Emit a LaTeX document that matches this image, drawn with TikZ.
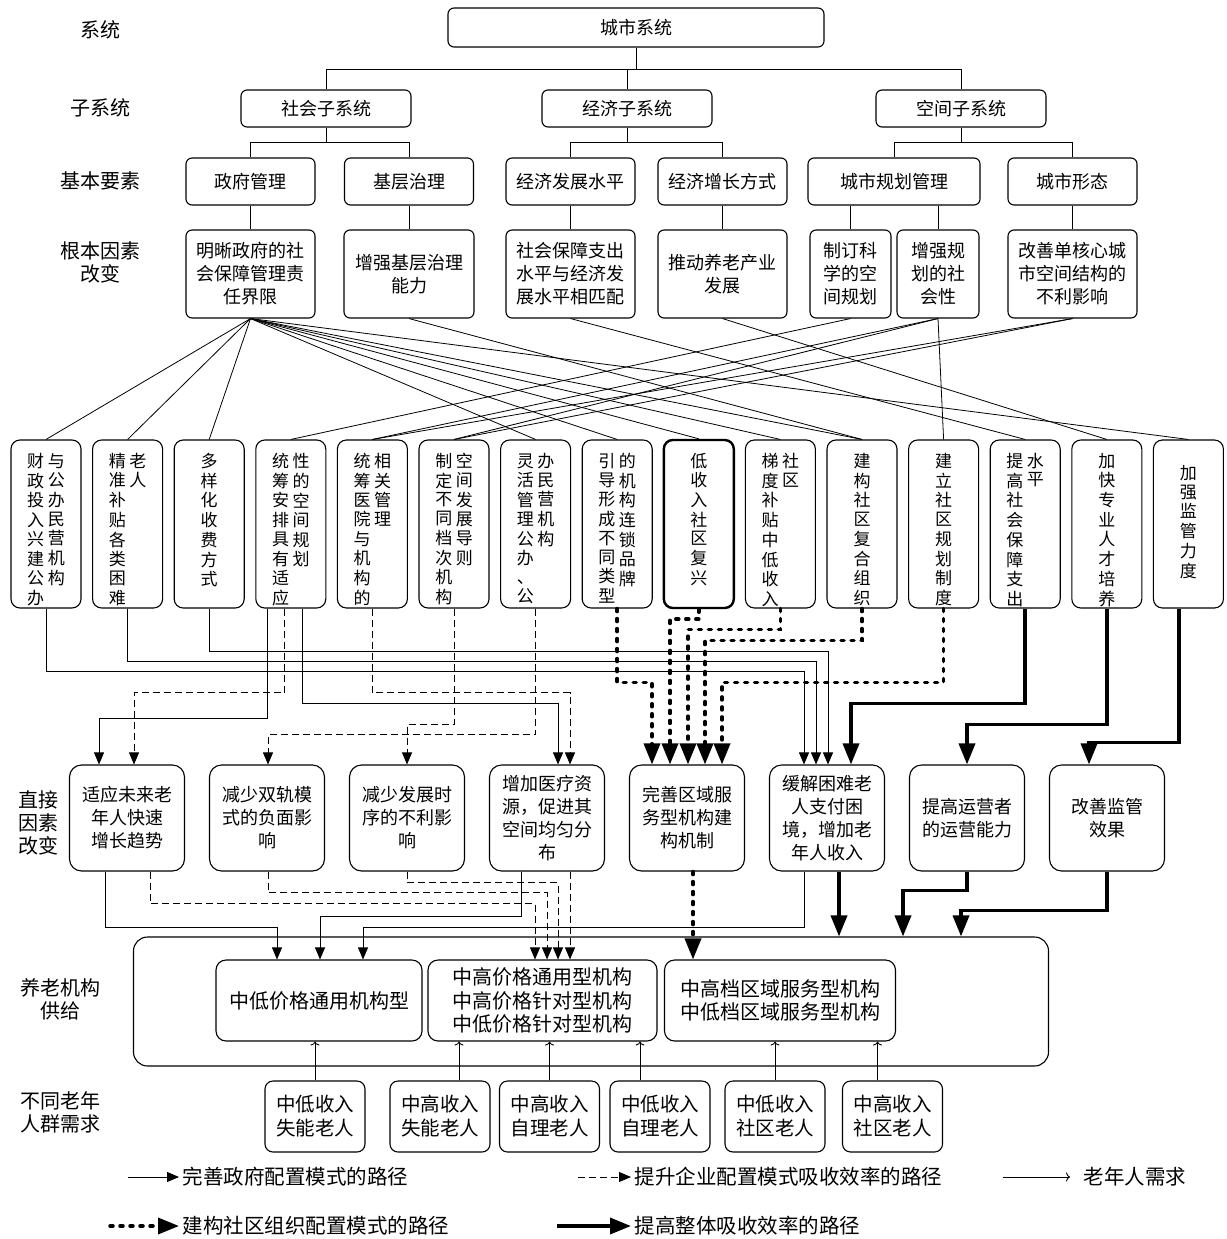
\documentclass[tikz,border=0pt]{standalone}
\usepackage{fontspec}
\setmainfont{Noto Sans CJK SC}
\usetikzlibrary{arrows.meta,calc}

% vertical text: one character per row
\newcommand\vtxt[1]{\def\vtmp{}\vtxtA#1\relax\begin{tabular}[t]{@{}c@{}}\vtmp\end{tabular}}
\def\vtxtA#1{\ifx\relax#1\else\expandafter\def\expandafter\vtmp\expandafter{\vtmp#1\\}\expandafter\vtxtA\fi}
% one or two columns of vertical text
\newcommand\vcols[3][t]{\parbox[c][142pt][#1]{64pt}{\centering\fontsize{17}{18.2}\selectfont
  \vtxt{#2}\ifx\relax#3\relax\else\hspace{3.5pt}\vtxt{#3}\fi}}

\begin{document}
\begin{tikzpicture}[x=1pt, y=-1pt,
    box/.style={draw, line width=1.1pt, rounded corners=6pt, align=center, inner sep=0pt,
      font=\fontsize{18}{23}\selectfont},
    base/.style={box, minimum width=129pt, minimum height=47pt},
    fund/.style={box, minimum width=129pt, minimum height=88pt},
    vbox/.style={draw, line width=1.1pt, rounded corners=9pt, minimum width=70pt,
      minimum height=168pt, inner sep=0pt},
    dir/.style={box, rounded corners=12pt, minimum width=115pt, minimum height=106pt},
    inner/.style={box, rounded corners=10pt, minimum height=81pt, font=\fontsize{20}{23.5}\selectfont},
    dem/.style={box, rounded corners=8pt, minimum width=100pt, minimum height=71pt,
      font=\fontsize{19.5}{24}\selectfont},
    lvl/.style={align=center, font=\fontsize{20}{23}\selectfont},
    leg/.style={anchor=west, font=\fontsize{20.5}{22}\selectfont},
    link/.style={line width=0.8pt},
    gov/.style={line width=0.9pt, -{Triangle[length=12pt,width=10pt]}},
    ent/.style={gov, dash pattern=on 7pt off 4pt},
    com/.style={line width=3.5pt, line cap=round, dash pattern=on 3pt off 7pt,
      -{Triangle[length=21pt,width=16pt]}},
    tot/.style={line width=3.5pt, -{Triangle[length=21pt,width=16pt]}},
    need/.style={line width=0.9pt, -{To[length=4pt,width=9pt]}}]

    \useasboundingbox (0,0) rectangle (1226,1239);

    % ==========================================
    % LEVEL LABELS
    % ==========================================
    \node[lvl] (l1) at (100,30) {系统};
    \node[lvl] (l2) at (100,108) {子系统};
    \node[lvl] (l3) at (100,181) {基本要素};
    \node[lvl] (l4) at (100,262) {根本因素\\改变};
    \node[lvl] (l5) at (38,823) {直接\\因素\\改变};
    \node[lvl] (l6) at (60,999) {养老机构\\供给};
    \node[lvl] (l7) at (60,1112) {不同老年\\人群需求};

    % ==========================================
    % SYSTEM, SUBSYSTEMS, BASIC ELEMENTS
    % ==========================================
    \node[box, minimum width=376pt, minimum height=39pt] (sys) at (636,27.5) {城市系统};
    \node[box, minimum width=170pt, minimum height=37pt] (soc) at (326,108.5) {社会子系统};
    \node[box, minimum width=170pt, minimum height=37pt] (eco) at (627,108.5) {经济子系统};
    \node[box, minimum width=170pt, minimum height=37pt] (spa) at (961,108.5) {空间子系统};

    \node[base] (e1) at (250.5,181.5) {政府管理};
    \node[base] (e2) at (409,181.5) {基层治理};
    \node[base] (e3) at (570.5,181.5) {经济发展水平};
    \node[base] (e4) at (722.5,181.5) {经济增长方式};
    \node[base, minimum width=172pt] (e5) at (894,181.5) {城市规划管理};
    \node[base] (e6) at (1072.5,181.5) {城市形态};

    \draw[link] (sys.south) -- ++(0,22) coordinate (b0);
    \draw[link] (b0) -| (soc.north);
    \draw[link] (b0) -| (eco.north);
    \draw[link] (b0) -| (spa.north);
    \draw[link] (soc.south) -- ++(0,15) coordinate (b1);
    \draw[link] (b1) -| (e1.north);
    \draw[link] (b1) -| (e2.north);
    \draw[link] (eco.south) -- ++(0,15) coordinate (b2);
    \draw[link] (b2) -| (e3.north);
    \draw[link] (b2) -| (e4.north);
    \draw[link] (spa.south) -- ++(0,15) coordinate (b3);
    \draw[link] (b3) -| (e5.north);
    \draw[link] (b3) -| (e6.north);

    % ==========================================
    % FUNDAMENTAL FACTORS
    % ==========================================
    \node[fund] (f1) at (250.5,274) {明晰政府的社\\会保障管理责\\任界限};
    \node[fund, minimum width=130pt] (f2) at (409,274) {增强基层治理\\能力};
    \node[fund] (f3) at (570.5,274) {社会保障支出\\水平与经济发\\展水平相匹配};
    \node[fund] (f4) at (722.5,274) {推动养老产业\\发展};
    \node[fund, minimum width=81pt] (f5) at (850.5,274) {制订科\\学的空\\间规划};
    \node[fund, minimum width=82pt] (f6) at (938,274) {增强规\\划的社\\会性};
    \node[fund] (f7) at (1072.5,274) {改善单核心城\\市空间结构的\\不利影响};

    \draw[link] (e1.south) -- (f1.north);
    \draw[link] (e2.south) -- (f2.north);
    \draw[link] (e3.south) -- (f3.north);
    \draw[link] (e4.south) -- (f4.north);
    \draw[link] (e5.south -| f5.north) -- (f5.north);
    \draw[link] (e5.south -| f6.north) -- (f6.north);
    \draw[link] (e6.south) -- (f7.north);

    % ==========================================
    % MEASURES (vertical text)
    % ==========================================
    \node[vbox] (v1) at (46,524) {\vcols{财政投入兴建公办}{与公办民营机构}};
    \node[vbox] (v2) at (127.6,524) {\vcols{精准补贴各类困难}{老人}};
    \node[vbox] (v3) at (209.2,524) {\vcols{多样化收费方式}{}};
    \node[vbox] (v4) at (290.8,524) {\vcols{统筹安排具有适应}{性的空间规划}};
    \node[vbox] (v5) at (372.4,524) {\vcols{统筹医院与机构的}{相关管理}};
    \node[vbox] (v6) at (454,524) {\vcols{制定不同档次机构}{空间发展导则}};
    \node[vbox] (v7) at (535.6,524) {\vcols{灵活管理公办、公}{办民营机构}};
    \node[vbox] (v8) at (617.2,524) {\vcols{引导形成不同类型}{的机构连锁品牌}};
    \node[vbox, line width=2.4pt] (v9) at (698.8,524) {\vcols{低收入社区复兴}{}};
    \node[vbox] (v10) at (780.4,524) {\vcols{梯度补贴中低收入}{社区}};
    \node[vbox] (v11) at (862,524) {\vcols{建构社区复合组织}{}};
    \node[vbox] (v12) at (943.6,524) {\vcols{建立社区规划制度}{}};
    \node[vbox] (v13) at (1025.2,524) {\vcols{提高社会保障支出}{水平}};
    \node[vbox] (v14) at (1106.8,524) {\vcols{加快专业人才培养}{}};
    \node[vbox] (v15) at (1188.4,524) {\vcols[c]{加强监管力度}{}};

    % fundamental factors -> measures
    \foreach \t in {v1,v2,v3,v7,v8,v9,v10,v11,v15}
        \draw[link] (f1.south) -- (\t.north);
    \draw[link] (f2.south) -- (v11.north);
    \draw[link] (f3.south) -- (v13.north);
    \draw[link] (f4.south) -- (v14.north);
    \draw[link] (f5.south) -- (v4.north);
    \foreach \t in {v5,v6,v12}
        \draw[link] (f6.south) -- (\t.north);
    \foreach \t in {v5,v6}
        \draw[link] (f7.south) -- (\t.north);

    % ==========================================
    % DIRECT FACTORS
    % ==========================================
    \node[dir] (dA) at (127,818) {适应未来老\\年人快速\\增长趋势};
    \node[dir] (dB) at (267,818) {减少双轨模\\式的负面影\\响};
    \node[dir] (dC) at (407,818) {减少发展时\\序的不利影\\响};
    \node[dir] (dD) at (547,818) {增加医疗资\\源，促进其\\空间均匀分\\布};
    \node[dir] (dE) at (687,818) {完善区域服\\务型机构建\\构机制};
    \node[dir] (dF) at (827,818) {缓解困难老\\人支付困\\境，增加老\\年人收入};
    \node[dir] (dG) at (967,818) {提高运营者\\的运营能力};
    \node[dir] (dH) at (1107,818) {改善监管\\效果};

    % measures -> direct factors
    \draw[gov] (v1.south) -- ++(0,63) -| ([xshift=-23pt]dF.north);
    \draw[gov] (v2.south) -- ++(0,53) -| ([xshift=-11pt]dF.north);
    \draw[gov] (v3.south) -- ++(0,43) -| ([xshift=1pt]dF.north);
    \draw[gov] ([xshift=-23pt]v4.south) -- ++(0,110) -| ([xshift=-28pt]dA.north);
    \draw[gov] ([xshift=12pt]v4.south) -- ++(0,95) -| ([xshift=11pt]dD.north);

    \draw[ent] ([xshift=-6pt]v4.south) -- ++(0,84) -| ([xshift=7pt]dA.north);
    \draw[ent] (v5.south) -- ++(0,84) -| ([xshift=23pt]dD.north);
    \draw[ent] (v6.south) -- ++(0,116) -| (dC.north);
    \draw[ent] (v7.south) -- ++(0,126) -| ([xshift=1pt]dB.north);

    \draw[com] (v8.south) -- ++(0,74) -| ([xshift=-35pt]dE.north);
    \draw[com] (v9.south) -- ++(0,10) -| ([xshift=-17pt]dE.north);
    \draw[com] (v10.south) -- ++(0,21) -| ([xshift=1pt]dE.north);
    \draw[com] (v11.south) -- ++(0,32) -| ([xshift=18pt]dE.north);
    \draw[com] (v12.south) -- ++(0,74) -| ([xshift=35pt]dE.north);

    \draw[tot] (v13.south) -- ++(0,95) -| ([xshift=24pt]dF.north);
    \draw[tot] (v14.south) -- ++(0,116) -| (dG.north);
    \draw[tot] ([xshift=-9.5pt]v15.south) -- ++(0,134) -| ([xshift=-18pt]dH.north);

    % ==========================================
    % SUPPLY OF ELDERLY CARE INSTITUTIONS
    % ==========================================
    \node[draw, line width=1.1pt, rounded corners=14pt, minimum width=915pt,
          minimum height=129pt] (sup) at (591,1001.5) {};
    \node[inner, minimum width=206pt] (s1) at (319,1000.5) {中低价格通用机构型};
    \node[inner, minimum width=229pt] (s2) at (542.5,1000.5) {中高价格通用型机构\\中高价格针对型机构\\中低价格针对型机构};
    \node[inner, minimum width=231pt] (s3) at (780,1000.5) {中高档区域服务型机构\\中低档区域服务型机构};

    % direct factors -> supply
    \draw[gov] ([xshift=-22pt]dA.south) -- ++(0,56) -| ([xshift=-42pt]s1.north);
    \draw[gov] ([xshift=-26pt]dD.south) -- ++(0,45) -| ([xshift=1pt]s1.north);
    \draw[gov] ([xshift=-23pt]dF.south) -- ++(0,56) -| ([xshift=44pt]s1.north);

    \draw[ent] ([xshift=23pt]dA.south) -- ++(0,32) -| ([xshift=-7.5pt]s2.north);
    \draw[ent] ([xshift=1pt]dB.south) -- ++(0,21) -| ([xshift=4.5pt]s2.north);
    \draw[ent] (dC.south) -- ++(0,11) -| ([xshift=15.5pt]s2.north);
    \draw[ent] ([xshift=23pt]dD.south) -- ([xshift=27.5pt]s2.north);

    \draw[com] ([xshift=6pt]dE.south) -- ([xshift=-87pt]s3.north);

    \draw[tot] ([xshift=12pt]dF.south) -- ($(sup.north -| dF.south)+(12,0)$);
    \draw[tot] (dG.south) -- ++(0,19) -| ($(sup.north -| dG.south)+(-64,0)$);
    \draw[tot] (dH.south) -- ++(0,39) -| ($(sup.north -| dH.south)+(-146,0)$);

    % ==========================================
    % DEMAND OF ELDERLY GROUPS
    % ==========================================
    \node[dem] (dm1) at (315,1116.5) {中低收入\\失能老人};
    \node[dem] (dm2) at (440,1116.5) {中高收入\\失能老人};
    \node[dem] (dm3) at (549.5,1116.5) {中高收入\\自理老人};
    \node[dem] (dm4) at (660,1116.5) {中低收入\\自理老人};
    \node[dem] (dm5) at (775,1116.5) {中低收入\\社区老人};
    \node[dem] (dm6) at (892.5,1116.5) {中高收入\\社区老人};

    \draw[need] (dm1.north) -- (dm1.north |- s1.south);
    \draw[need] ($(dm2.north)+(19,0)$) -- ($(dm2.north |- s2.south)+(19,0)$);
    \draw[need] (dm3.north) -- (dm3.north |- s2.south);
    \draw[need] ($(dm4.north)+(-20,0)$) -- ($(dm4.north |- s2.south)+(-20,0)$);
    \draw[need] (dm5.north) -- (dm5.north |- s3.south);
    \draw[need] ($(dm6.north)+(-15,0)$) -- ($(dm6.north |- s3.south)+(-15,0)$);

    % ==========================================
    % LEGEND
    % ==========================================
    \node[leg] (lg1) at (179,1177) {完善政府配置模式的路径};
    \node[leg] (lg2) at (631,1177) {提升企业配置模式吸收效率的路径};
    \node[leg] (lg3) at (1080,1177) {老年人需求};
    \node[leg] (lg4) at (179,1226) {建构社区组织配置模式的路径};
    \node[leg] (lg5) at (631,1226) {提高整体吸收效率的路径};

    \draw[gov] (128,1177) -- (lg1.west);
    \draw[ent] (578,1177) -- (lg2.west);
    \draw[need] (1003,1177) -- ([xshift=-10pt]lg3.west);
    \draw[com] (110,1226) -- (lg4.west);
    \draw[tot] (557,1226) -- (lg5.west);

\end{tikzpicture}
\end{document}
